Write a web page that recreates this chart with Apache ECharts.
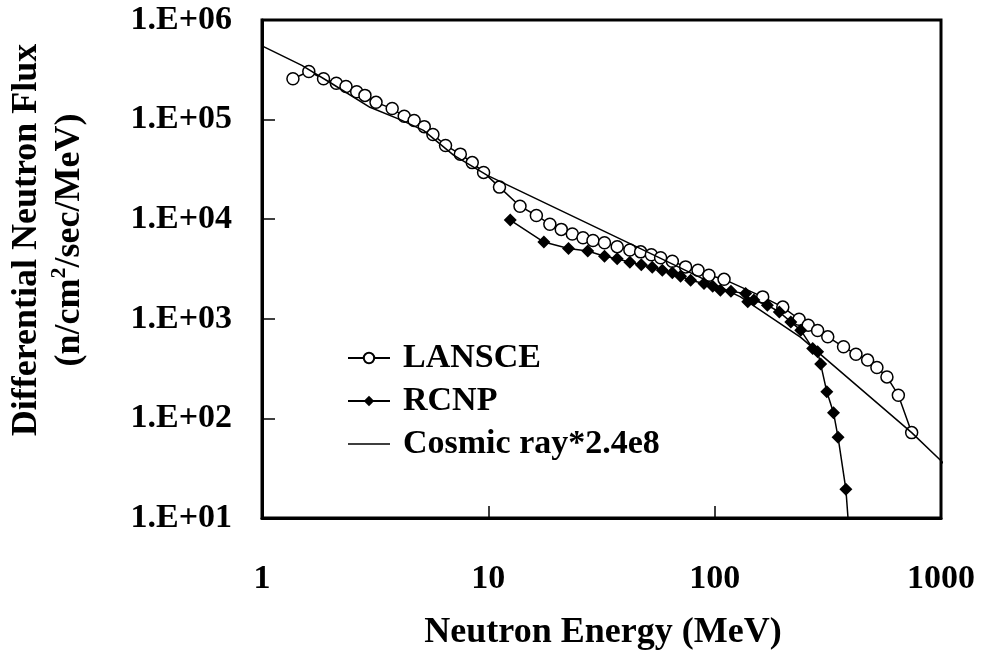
<!DOCTYPE html>
<html>
<head>
<meta charset="utf-8">
<script src="https://cdn.jsdelivr.net/npm/echarts@6/dist/echarts.min.js"></script>
<style>
  html, body { margin: 0; padding: 0; background: #fff; }
  #chart { width: 982px; height: 652px; }
</style>
</head>
<body>
<div id="chart"></div>
<script>
// LANSCE (open circles)
const lansceE = [1.37, 1.61, 1.87, 2.13, 2.35, 2.62, 2.85, 3.19, 3.76, 4.25, 4.7, 5.21, 5.69, 6.47, 7.52, 8.49, 9.53, 11.2,
  13.8, 16.3, 18.7, 21, 23.5, 26.2, 29, 32.6, 37.1, 42.2, 47.1, 52.5, 57.7, 65, 74.4, 84.4, 94.3, 110,
  163, 200, 236, 259, 285, 316, 371, 421, 474, 521, 577, 648, 742]
const lansceFlux = [2.57e5, 3.04e5, 2.57e5, 2.32e5, 2.15e5, 1.9e5, 1.75e5, 1.49e5, 1.29e5, 1.08e5, 9.8e4, 8.5e4, 7.1e4, 5.5e4, 4.5e4, 3.7e4, 2.95e4, 2.1e4,
  1.35e4, 1.09e4, 8900, 7900, 7100, 6500, 6100, 5800, 5300, 4900, 4700, 4400, 4100, 3790, 3320, 3070, 2740, 2490,
  1660, 1310, 990, 863, 764, 659, 523, 441, 385, 325, 261, 171, 72]

// RCNP (filled diamonds), last point lies below the axis
const rcnpE = [12.5, 17.6, 22.6, 27.5, 32.6, 37.1, 42.2, 47.4, 53, 58.7, 65, 70.7, 78.3, 89.7, 98, 106, 118, 137,
  140, 149, 171, 193, 217, 240, 271, 285, 294, 313, 335, 351, 380, 400]
const rcnpFlux = [9800, 5900, 5070, 4800, 4250, 4000, 3700, 3480, 3300, 3070, 2900, 2670, 2440, 2260, 2120, 1940, 1890, 1790,
  1480, 1540, 1370, 1170, 931, 769, 504, 466, 351, 185, 114, 64.6, 19.4, 4]

// Cosmic ray * 2.4e8
const cosmicE = [1, 1.5, 2.04, 3.0, 4.08, 5.17, 7.02, 9.9, 47, 130, 240, 742, 1000, 1080]
const cosmicFlux = [5.5e5, 3.5e5, 2.29e5, 1.33e5, 1.0e5, 7.8e4, 4.4e4, 2.75e4, 5070, 1660, 650, 72, 37.6, 31]

const xTicks = [1, 10, 100, 1000]

const font = "'Liberation Serif', 'Times New Roman', serif"

// plain line as legend icon (tiny corner dots keep the 42x12 box)
const lineIcon = 'path://M0,5.25h42v1.5h-42z M0,0h0.01v0.01h-0.01z M41.99,11.99h0.01v0.01h-0.01z'

const chart = echarts.init(document.getElementById('chart'))

const pairs = (xs, ys) => xs.map((x, i) => [x, ys[i]])

chart.setOption({
  animation: false,
  backgroundColor: '#fff',
  grid: {
    left: 262,
    right: 41,
    top: 20,
    bottom: 134,
    show: true,
    borderColor: '#000',
    borderWidth: 3,
    containLabel: false
  },
  legend: {
    orient: 'vertical',
    left: 347,
    top: 341,
    padding: 0,
    itemWidth: 42,
    itemHeight: 13,
    itemGap: 9,
    data: [
      { name: 'LANSCE' },
      { name: 'RCNP' },
      { name: 'Cosmic ray*2.4e8', icon: lineIcon }
    ],
    textStyle: {
      fontFamily: font,
      fontWeight: 'bold',
      fontSize: 34,
      lineHeight: 34,
      color: '#000',
      padding: [0, 0, 0, 8]
    }
  },
  xAxis: {
    type: 'log',
    logBase: 10,
    min: 1,
    max: 1000,
    axisLine: { lineStyle: { color: '#000', width: 3 } },
    axisTick: { inside: true, length: 12, lineStyle: { color: '#000', width: 1.5 } },
    splitLine: { show: false },
    axisLabel: {
      margin: 44,
      fontFamily: font,
      fontWeight: 'bold',
      fontSize: 34,
      color: '#000',
      formatter: v => xTicks.includes(Math.round(v)) ? String(Math.round(v)) : ''
    }
  },
  yAxis: {
    type: 'log',
    logBase: 10,
    min: 10,
    max: 1e6,
    axisLine: { lineStyle: { color: '#000', width: 3 } },
    axisTick: { inside: true, length: 13, lineStyle: { color: '#000', width: 1.5 } },
    splitLine: { show: false },
    axisLabel: {
      margin: 30,
      fontFamily: font,
      fontWeight: 'bold',
      fontSize: 34,
      color: '#000',
      formatter: v => '1.E+' + String(Math.round(Math.log10(v))).padStart(2, '0')
    }
  },
  graphic: [
    {
      type: 'text',
      x: 48,
      y: 240,
      rotation: Math.PI / 2,
      style: {
        text: 'Differential Neutron Flux\n(n/cm{sup|2}/sec/MeV)',
        font: 'bold 36px ' + font,
        fill: '#000',
        align: 'center',
        verticalAlign: 'middle',
        lineHeight: 43,
        rich: {
          sup: {
            font: 'bold 22px ' + font,
            verticalAlign: 'top',
            padding: [0, 0, 14, 0]
          }
        }
      }
    },
    {
      type: 'text',
      x: 603,
      y: 633,
      style: {
        text: 'Neutron Energy (MeV)',
        font: 'bold 36px ' + font,
        fill: '#000',
        align: 'center',
        verticalAlign: 'middle'
      }
    }
  ],
  series: [
    {
      name: 'LANSCE',
      type: 'line',
      data: pairs(lansceE, lansceFlux),
      symbol: 'circle',
      symbolSize: 12,
      itemStyle: { color: '#fff', borderColor: '#000', borderWidth: 1.5 },
      lineStyle: { color: '#000', width: 1.5 },
      z: 2
    },
    {
      name: 'RCNP',
      type: 'line',
      data: pairs(rcnpE, rcnpFlux).map((p, i) => i === rcnpE.length - 1 ? { value: p, symbol: 'none' } : p),
      symbol: 'diamond',
      symbolSize: 13,
      itemStyle: { color: '#000' },
      lineStyle: { color: '#000', width: 1.5 },
      z: 3
    },
    {
      name: 'Cosmic ray*2.4e8',
      type: 'line',
      data: pairs(cosmicE, cosmicFlux),
      symbol: 'none',
      clip: false,
      itemStyle: { color: '#000' },
      lineStyle: { color: '#000', width: 1.5 },
      z: 4
    }
  ]
})
</script>
</body>
</html>
